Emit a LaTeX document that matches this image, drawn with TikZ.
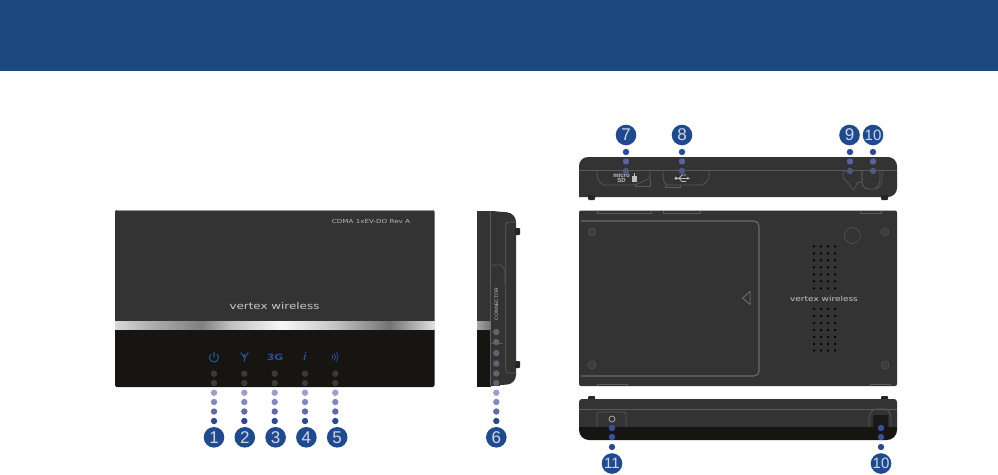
\documentclass[tikz,border=0pt]{standalone}
\usepackage{fontspec}
\setmainfont{Liberation Sans}
\newfontfamily\widefont[FakeStretch=1.28]{DejaVu Sans}
\usepackage{xcolor}
\usetikzlibrary{positioning,arrows.meta,calc}
\definecolor{VTXheader}{HTML}{1B487E}
\definecolor{VTXbadge}{HTML}{1F4A8F}
\definecolor{VTXbody}{HTML}{333333}
\definecolor{VTXblack}{HTML}{161512}
\definecolor{VTXline}{HTML}{5A5A5A}
\definecolor{VTXicon}{HTML}{2C4F96}
\definecolor{VTXdotA}{HTML}{2A4A94}
\definecolor{VTXdotB}{HTML}{5F6BAD}
\definecolor{VTXdotC}{HTML}{8389C0}
\definecolor{VTXdotD}{HTML}{9A9FCF}
\definecolor{VTXdotE}{HTML}{3A3A3A}
\definecolor{VTXdotF}{HTML}{62636E}
\pgfdeclarehorizontalshading{bandshade}{100bp}{
  color(0bp)=(black!15); color(25bp)=(black!15); color(30bp)=(black!30); color(38.5bp)=(black!50);
  color(43bp)=(black!25); color(51bp)=(black!3); color(59bp)=(black!22); color(68bp)=(black!55);
  color(75bp)=(black!12); color(100bp)=(black!12)}
\tikzset{
  badge/.style={circle, fill=VTXbadge, text=white!78!VTXbadge, minimum size=20.6pt, inner sep=0pt, font=\fontsize{17}{17}\selectfont},
  bodypart/.style={fill=VTXbody},
  detail/.style={draw=VTXline, line width=0.7pt},
  icon/.style={draw=VTXicon, line width=1.1pt},
  logotext/.style={text=black!22, inner sep=0pt, font=\widefont}
}
\begin{document}
\begin{tikzpicture}[x=1pt,y=-1pt]
  \useasboundingbox (0,0) rectangle (998,474);
  \fill[VTXheader] (0,0) rectangle (998,70.5);

  % front view
  \fill[bodypart, rounded corners=2pt] (115,210) rectangle (434.5,323);
  \fill[VTXblack, rounded corners=2pt] (115,327) rectangle (434.5,387);
  \draw[draw=black!40, line width=0.4pt] (117,210.2) -- (432.5,210.2);
  \shade[shading=bandshade] (115,321) rectangle (434.5,329);
  \node[logotext, font=\widefont\fontsize{5.6}{6}\selectfont, text=black!28] (frontmodel) at (371,221) {CDMA 1xEV-DO Rev A};
  \node[logotext, font=\widefont\fontsize{9.3}{10}\selectfont] (frontlogo) at (274.5,306) {vertex wireless};
  \draw[icon] (216.9,354.05) arc[start angle=-50, end angle=230, radius=4.5] (214,352) -- (214,357.5);
  \draw[icon] (240.7,352.5) -- (244.5,358) -- (248.3,352.5) (244.5,354) -- (244.5,361.7);
  \node[inner sep=0pt, text=VTXicon, font=\widefont\bfseries\fontsize{8.5}{9}\selectfont] (frontthreeg) at (275,357) {3G};
  \node[inner sep=0pt, text=VTXicon, font=\bfseries\itshape\fontsize{11}{11}\selectfont] (fronti) at (304.8,357) {i};
  \draw[icon, line width=0.8pt] (332.1,354.9) arc[start angle=-45, end angle=45, radius=3];
  \draw[icon, line width=0.8pt] (334.2,353.5) arc[start angle=-40, end angle=40, radius=5.5];
  \draw[icon, line width=0.8pt] (336.55,352.4) arc[start angle=-35, end angle=35, radius=8];

  % side view
  \fill[bodypart, rounded corners=9pt] (485,210.5) -- (516,213) -- (516,384) -- (485,386) -- cycle;
  \fill[bodypart] (477,210.5) rectangle (495,323);
  \fill[bodypart] (490,329) rectangle (500,386);
  \fill[VTXblack] (477,329) rectangle (491,386.5);
  \shade[left color=black!35, middle color=white!90!black, right color=black!55] (477,321) rectangle (490.5,329);
  \fill[black!85, rounded corners=1pt] (515,228) rectangle (520,235);
  \fill[black!85, rounded corners=1pt] (515,361) rectangle (520,368);
  \draw[detail] (490.7,211) -- (490.7,321) (490.7,329) -- (490.7,386);
  \draw[detail, rounded corners=3pt] (516,222) -- (505.7,222) -- (505.7,373) -- (516,373);
  \draw[detail] (491,265) -- (501,265) -- (505,270) -- (505,284);
  \draw[detail] (491,343) -- (503,343);
  \node[logotext, rotate=90, font=\fontsize{5}{5}\selectfont] (sidelabel) at (496.3,304) {CONNECTOR};

  % top view
  \fill[bodypart, rounded corners=9pt] (579,197) -- (579,157) -- (897,157) -- (897,197) [sharp corners] -- cycle;
  \fill[black!85, rounded corners=1pt] (588,195) rectangle (595,200);
  \fill[black!85, rounded corners=1pt] (881,195) rectangle (888,200);
  \draw[detail, line width=0.5pt] (579,170.7) -- (897,170.7);
  \draw[detail, rounded corners=2pt] (597,171) -- (597,178) -- (602,185) -- (635,185) -- (650,178) -- (650,171);
  \draw[detail] (635,185) -- (635,186.7) -- (650,186.7) -- (650,178);
  \draw[detail, rounded corners=2pt] (663,171) -- (663,179) -- (666,185) -- (703,185) -- (709,179) -- (709,171);
  \draw[detail] (665,185) -- (665,187) -- (680,187) -- (680,185);
  \node[logotext, font=\bfseries\fontsize{6}{5}\selectfont, align=center, text=black!25] (topsd) at (621.5,177.5) {micro\\SD};
  \fill[black!25] (632,176) rectangle (637,182);
  \draw[black!25, line width=0.6pt] (634.5,176) -- (634.5,173.3);
  \draw[black!25, line width=1.4pt, -{Latex[length=3.5pt]}] (675,178.3) -- (690.5,178.3);
  \fill[black!25] (676,178.3) circle (1.6pt);
  \draw[black!25, line width=0.8pt] (679,178.3) -- (682,175) -- (686,175) (679,178.3) -- (682,181.5) -- (686,181.5);
  \draw[detail, rounded corners=1.5pt] (846,171) -- (843,172) -- (843,178) -- (850,185) -- (852,190) -- (855,189) -- (857,182) -- (862,183) -- (862,171);
  \draw[detail, rounded corners=3pt] (862,171) -- (862,185) -- (866,189) -- (876,189) -- (880,183) -- (880,171);
  \draw[detail, line width=0.5pt] (883,171) -- (881,185) -- (876,190);

  % back view
  \fill[bodypart, rounded corners=2pt] (579,210.5) rectangle (897,386);
  \draw[draw=white!70!black, line width=0.5pt] (582,210.5) -- (894,210.5);
  \draw[draw=black!58, line width=1.1pt, rounded corners=5pt] (581,221) -- (759,221) -- (759,376) -- (581,376);
  \foreach \px/\py in {592/232,885/232,592/365,885/365}{
    \draw[detail, line width=0.5pt] (\px,\py) circle (4pt);
    \draw[detail, line width=0.5pt] (\px,\py) circle (2.2pt);
  }
  \draw[detail, line width=0.5pt] (852.3,235.5) circle (8pt);
  \draw[draw=black!45, line width=0.5pt] (742.5,298) -- (750,291.5) -- (750,304.5) -- cycle;
  \draw[detail, line width=0.6pt] (597,211) -- (597,213) -- (651,213) -- (651,211) (663,211) -- (663,213) -- (700,213) -- (700,211);
  \draw[detail, line width=0.6pt] (860,211) -- (860,213) -- (881,213) -- (881,211);
  \draw[detail, line width=0.6pt] (597,386) -- (597,384) -- (627,384) -- (627,386);
  \draw[detail, line width=0.6pt] (870,386) -- (870,384) -- (890,384) -- (890,386);
  \foreach \gx in {814,821,828,835}{
    \foreach \gy in {246.3,253.3,260.3,267.3,274.3,281.3,288.3,309,316,323,330,337,344,350.5}{
      \fill[black] (\gx,\gy) circle (1.25pt);
    }
  }
  \node[logotext, font=\widefont\fontsize{7}{7}\selectfont] (backlogo) at (824,298.5) {vertex wireless};

  % bottom view
  \fill[black!85, rounded corners=1pt] (588,396) rectangle (595,402);
  \fill[black!85, rounded corners=1pt] (881,396) rectangle (888,402);
  \fill[bodypart, rounded corners=3pt] (579,430) -- (579,399) -- (897,399) -- (897,430) -- cycle;
  \fill[VTXblack] (579,427) -- (897,427) -- (897,430) arc[start angle=0, end angle=90, radius=10] -- (589,440) arc[start angle=90, end angle=180, radius=10] -- cycle;
  \draw[detail, line width=0.5pt] (579,409.5) -- (897,409.5);
  \draw[detail, rounded corners=2pt] (597,427) -- (597,412) -- (626,412) -- (626,427);
  \draw[draw=black!30, line width=0.7pt] (612,419) circle (3pt);
  \draw[detail, rounded corners=3pt] (869,427) -- (869,416) -- (873,409) -- (888,409) -- (891,416) -- (891,427);
  \fill[black!90, rounded corners=1pt] (873,427) -- (873,415) -- (888,415) -- (888,427) -- cycle;

  % callout dots: over the body, then fading out over white
  \foreach \col in {214,244.3,274.7,305,335.3}{
    \fill[VTXdotE] (\col,373.7) circle (3.2pt);
    \fill[VTXdotE] (\col,383) circle (3.2pt);
    \fill[VTXdotD] (\col,392.7) circle (3.2pt);
    \fill[VTXdotC] (\col,402) circle (3.2pt);
    \fill[VTXdotB] (\col,411.5) circle (3.2pt);
    \fill[VTXdotA] (\col,421) circle (3.2pt);
  }
  \foreach \row in {332,342,353,363.5,373.5,383}{
    \fill[VTXdotF] (496.3,\row) circle (3.2pt);
  }
  \fill[VTXdotD] (496.3,392.7) circle (3.2pt);
  \fill[VTXdotC] (496.3,402) circle (3.2pt);
  \fill[VTXdotB] (496.3,411.5) circle (3.2pt);
  \fill[VTXdotA] (496.3,421) circle (3.2pt);
  \foreach \col in {626,682,850,873}{
    \fill[VTXdotA] (\col,152) circle (3.2pt);
    \fill[VTXdotB!85!VTXbody] (\col,161.5) circle (3.2pt);
    \fill[VTXdotB!65!VTXbody] (\col,171) circle (3.2pt);
  }
  \foreach \col in {612,881}{
    \fill[VTXdotA!80!VTXdotB] (\col,428) circle (3.2pt);
    \fill[VTXdotA!80!VTXdotB] (\col,437) circle (3.2pt);
    \fill[VTXdotA] (\col,447) circle (3.2pt);
  }

  \node[badge] (one) at (214,437.3) {1};
  \node[badge, right=9.8pt of one] (two) {2};
  \node[badge, right=9.8pt of two] (three) {3};
  \node[badge, right=9.8pt of three] (four) {4};
  \node[badge, right=9.8pt of four] (five) {5};
  \node[badge] (six) at (496.3,437.3) {6};
  \node[badge] (seven) at (626,135) {7};
  \node[badge] (eight) at (682,135) {8};
  \node[badge] (nine) at (849.5,135) {9};
  \node[badge, font=\fontsize{15}{15}\selectfont] (ten) at (873,135) {10};
  \node[badge, font=\fontsize{15}{15}\selectfont] (eleven) at (612,463.5) {11};
  \node[badge, font=\fontsize{15}{15}\selectfont] (tenb) at (881,463.5) {10};
\end{tikzpicture}
\end{document}
